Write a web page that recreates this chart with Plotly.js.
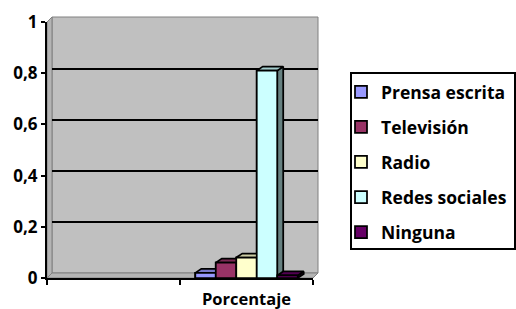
<!DOCTYPE html>
<html>
<head>
<meta charset="utf-8">
<script src="https://cdn.plot.ly/plotly-3.0.1.min.js"></script>
<style>html,body{margin:0;padding:0;background:#fff;}#chart{width:516px;height:309px;}</style>
</head>
<body>
<div id="chart"></div>
<script>
// ---- data ----
const categories = ['', 'Porcentaje'];
const seriesNames = ['Prensa escrita', 'Televisión', 'Radio', 'Redes sociales', 'Ninguna'];
const prensaEscrita = [null, 0.02];
const television = [null, 0.06];
const radio = [null, 0.08];
const redesSociales = [null, 0.81];
const ninguna = [null, 0.01];
const seriesValues = [prensaEscrita, television, radio, redesSociales, ninguna];
const seriesColors = ['#9999FF', '#993366', '#FFFFCC', '#CCFFFF', '#660066'];
const yTicks = [0, 0.2, 0.4, 0.6, 0.8, 1];

// ---- geometry / style ----
const W = 516, H = 309;
const M = {l: 47, r: 198, t: 17, b: 31, autoexpand: false};
const PW = W - M.l - M.r, PH = H - M.t - M.b; // paper area
const wallPx = 5;               // depth of the 3D box in px
const barDepth = {x: 6, y: 4};  // depth of each 3D bar in px
const frontW = PW - wallPx, frontH = PH - wallPx;
const xRange = [0, categories.length];
const yRange = [0, 1];
const bargap = 0.23;
const nS = seriesNames.length;
const dX = barDepth.x * (xRange[1] - xRange[0]) / frontW;
const dY = barDepth.y * (yRange[1] - yRange[0]) / (frontH - 1);
const catPos = categories.map((c, i) => i + 0.5);
const edgeW = 1.75;

function shade(hex, f) {
  const n = parseInt(hex.slice(1), 16);
  const r = Math.round(((n >> 16) & 255) * f), g = Math.round(((n >> 8) & 255) * f), b = Math.round((n & 255) * f);
  return 'rgb(' + r + ',' + g + ',' + b + ')';
}

const traces = [];
// empty trace so that the back-wall subplot (gridlines) is created
traces.push({type: 'scatter', x: [], y: [], xaxis: 'x', yaxis: 'y', showlegend: false, hoverinfo: 'skip'});
// bar traces (front faces, legend)
seriesNames.forEach((name, s) => {
  traces.push({
    type: 'bar', name: name, x: catPos, y: seriesValues[s],
    xaxis: 'x2', yaxis: 'y2', legendgroup: 'g' + s,
    marker: {color: seriesColors[s], line: {color: '#000', width: edgeW}},
    hoverinfo: 'name+y'
  });
});
// 3D faces drawn in painter's order (left to right)
const bw = (1 - bargap) / nS;
function poly(xs, ys, fill) {
  return {type: 'scatter', mode: 'lines', x: xs.concat([xs[0]]), y: ys.concat([ys[0]]),
    fill: 'toself', fillcolor: fill, line: {color: '#000', width: edgeW},
    xaxis: 'x2', yaxis: 'y2', showlegend: false, hoverinfo: 'skip'};
}
catPos.forEach((cx, c) => {
  seriesNames.forEach((name, s) => {
    const v = seriesValues[s][c];
    if (v === null || v === undefined) return;
    const x0 = cx - (1 - bargap) / 2 + s * bw, x1 = x0 + bw;
    const col = seriesColors[s];
    traces.push(poly([x1, x1 + dX, x1 + dX, x1], [0, dY, v + dY, v], shade(col, 0.5)));
    traces.push(poly([x0, x1, x1 + dX, x0 + dX], [v, v, v + dY, v + dY], shade(col, 0.8)));
    traces.push(poly([x0, x1, x1, x0], [0, 0, v, v], col));
  });
});

const fx = wallPx / PW, fy = wallPx / PH;
const fxr = frontW / PW, fyt = frontH / PH;
function px2paperX(p) { return (p - M.l) / PW; }
function px2paperY(p) { return (H - M.b - p) / PH; }

const shapes = [
  // back wall
  {type: 'rect', xref: 'paper', yref: 'paper', x0: fx, x1: 1, y0: fy, y1: 1,
   fillcolor: '#C0C0C0', line: {color: '#808080', width: 1}, layer: 'below'},
  // left side wall
  {type: 'path', xref: 'paper', yref: 'paper', layer: 'below',
   path: `M0,0 L0,${fyt} L${fx},1 L${fx},${fy} Z`,
   fillcolor: '#B4B4B4', line: {color: '#808080', width: 1}},
  // floor
  {type: 'path', xref: 'paper', yref: 'paper', layer: 'below',
   path: `M0,0 L${fxr},0 L1,${fy} L${fx},${fy} Z`,
   fillcolor: '#B4B4B4', line: {color: '#808080', width: 1}},
  // legend frame
  {type: 'rect', xref: 'paper', yref: 'paper',
   x0: px2paperX(351), x1: px2paperX(515), y0: px2paperY(249), y1: px2paperY(73),
   fillcolor: 'rgba(0,0,0,0)', line: {color: '#000', width: 2}, layer: 'above'}
];

const fontFam = '"Open Sans", Lato, sans-serif';
const layout = {
  width: W, height: H, margin: M,
  paper_bgcolor: '#fff', plot_bgcolor: 'rgba(0,0,0,0)',
  separators: ', ',
  font: {family: fontFam, size: 17, color: '#000', weight: 'bold'},
  barmode: 'group', bargap: bargap, bargroupgap: 0,
  showlegend: true,
  legend: {x: px2paperX(341), y: px2paperY(74), xanchor: 'left', yanchor: 'top',
    bgcolor: 'rgba(0,0,0,0)', borderwidth: 0, traceorder: 'grouped', tracegroupgap: 9.3,
    font: {family: fontFam, size: 17.5, color: '#000', weight: 'bold'}},
  // back wall axes (gridlines)
  xaxis: {domain: [fx, 1], range: xRange, anchor: 'y', fixedrange: true,
    showticklabels: false, ticks: '', showline: false, showgrid: false, zeroline: false},
  yaxis: {domain: [fy, 1], range: [0, (frontH + 0) / (frontH - 1)], anchor: 'x', fixedrange: true,
    showticklabels: false, ticks: '', showline: false, zeroline: false,
    tickmode: 'array', tickvals: yTicks.filter(v => v > 0 && v < 1),
    showgrid: true, gridcolor: '#000', gridwidth: 2},
  // front axes
  xaxis2: {domain: [0, fxr], range: xRange, anchor: 'y2', fixedrange: true,
    showline: true, linecolor: '#000', linewidth: 2, zeroline: false, showgrid: false,
    tickmode: 'array', tickvals: catPos, ticktext: categories, ticks: '',
    ticklabelstandoff: 5,
    tickfont: {family: fontFam, size: 16.5, color: '#000', weight: 'bold'},
    minor: {ticks: 'outside', tick0: 0, dtick: 1, ticklen: 5, tickwidth: 2, tickcolor: '#000', showgrid: false}},
  yaxis2: {domain: [0, fyt], range: yRange, anchor: 'x2', fixedrange: true,
    showline: true, linecolor: '#000', linewidth: 2, zeroline: false, showgrid: false,
    tickmode: 'array', tickvals: yTicks, ticks: 'outside', ticklen: 4, tickwidth: 2, tickcolor: '#000',
    tickfont: {family: fontFam, size: 17, color: '#000', weight: 'bold'}},
  shapes: shapes
};

Plotly.newPlot('chart', traces, layout, {displayModeBar: false, staticPlot: true});
</script>
</body>
</html>
